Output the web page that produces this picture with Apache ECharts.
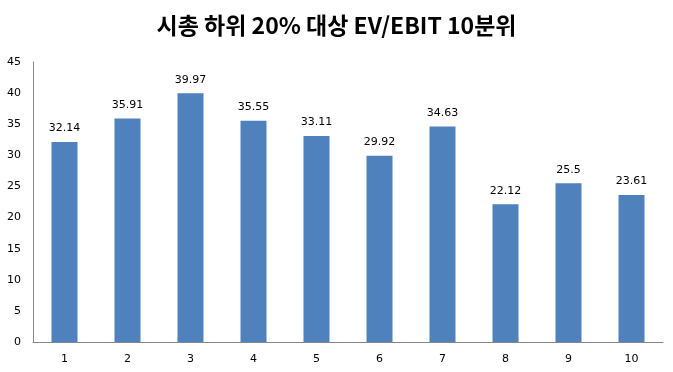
<!DOCTYPE html>
<html><head><meta charset="utf-8">
<script src="https://cdn.jsdelivr.net/npm/echarts@6/dist/echarts.min.js"></script>
<style>html,body{margin:0;padding:0;background:#fff}#c{width:673px;height:372px}</style>
</head><body><div id="c"></div>
<script>
const titleText = '시총 하위 20% 대상 EV/EBIT 10분위';
const categories = ['1','2','3','4','5','6','7','8','9','10'];
const values = [32.14, 35.91, 39.97, 35.55, 33.11, 29.92, 34.63, 22.12, 25.5, 23.61];
const chart = echarts.init(document.getElementById('c'));
chart.setOption({
  animation: false,
  title: {text: titleText, left: 'center', top: 9,
    textStyle: {fontFamily: 'Noto Sans CJK KR', fontSize: 23, fontWeight: 'bold', color: '#000'}},
  grid: {left: 33, right: 10, top: 62, bottom: 30, containLabel: false},
  xAxis: {type: 'category', data: categories,
    axisLine: {lineStyle: {color: '#868686'}}, axisTick: {show: false},
    axisLabel: {color: '#000', fontSize: 11, fontFamily: 'DejaVu Sans', margin: 12}},
  yAxis: {type: 'value', min: 0, max: 45, interval: 5,
    axisLine: {show: true, lineStyle: {color: '#868686'}}, axisTick: {show: false},
    splitLine: {show: false},
    axisLabel: {color: '#000', fontSize: 11, fontFamily: 'DejaVu Sans', margin: 12}},
  series: [{type: 'bar', data: values, barWidth: 26,
    itemStyle: {color: '#4F81BD'},
    label: {show: true, position: 'top', distance: 8, color: '#000', fontSize: 11, fontFamily: 'DejaVu Sans'}}]
});
</script></body></html>
